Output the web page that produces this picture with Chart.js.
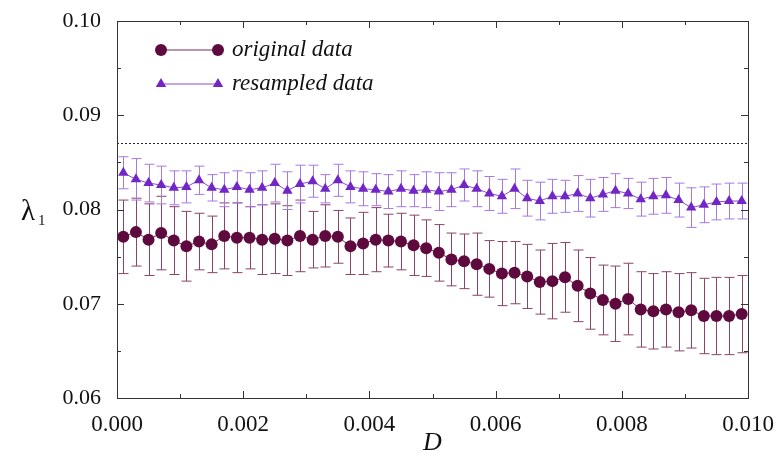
<!DOCTYPE html>
<html>
<head>
<meta charset="utf-8">
<script src="https://cdn.jsdelivr.net/npm/chart.js@4/dist/chart.umd.min.js"></script>
<style>
  html, body { margin: 0; padding: 0; background: #fff; }
  #wrap { width: 777px; height: 459px; }
</style>
</head>
<body>
<div id="wrap"><canvas id="myChart" width="777" height="459"></canvas></div>
<script>
// D values (x positions of the measurements)
var dValues = [
  0.0001, 0.0003, 0.0005, 0.0007, 0.0009, 0.0011, 0.0013, 0.0015, 0.0017, 0.0019,
  0.0021, 0.0023, 0.0025, 0.0027, 0.0029, 0.0031, 0.0033, 0.0035, 0.0037, 0.0039,
  0.0041, 0.0043, 0.0045, 0.0047, 0.0049, 0.0051, 0.0053, 0.0055, 0.0057, 0.0059,
  0.0061, 0.0063, 0.0065, 0.0067, 0.0069, 0.0071, 0.0073, 0.0075, 0.0077, 0.0079,
  0.0081, 0.0083, 0.0085, 0.0087, 0.0089, 0.0091, 0.0093, 0.0095, 0.0097, 0.0099
];

// original data: lambda_1 and its error (half width)
var originalVals = [
  0.0771, 0.0776, 0.0768, 0.0775, 0.0767, 0.0761, 0.0766, 0.0763, 0.0772, 0.0770,
  0.0770, 0.0768, 0.0769, 0.0767, 0.0772, 0.0768, 0.0772, 0.0771, 0.0761, 0.0764,
  0.0768, 0.0767, 0.0766, 0.0762, 0.0759, 0.0754, 0.0747, 0.0745, 0.0742, 0.0737,
  0.0732, 0.0733, 0.0729, 0.0723, 0.0724, 0.0728, 0.0719, 0.0711, 0.0704, 0.0700,
  0.0705, 0.0694, 0.0692, 0.0694, 0.0691, 0.0693, 0.0687, 0.0687, 0.0687, 0.0689
];
var originalErr = [
  0.0039, 0.0036, 0.0038, 0.0039, 0.0036, 0.0037, 0.0030, 0.0030, 0.0035, 0.0037,
  0.0033, 0.0037, 0.0037, 0.0037, 0.0038, 0.0030, 0.0033, 0.0028, 0.0030, 0.0033,
  0.0034, 0.0028, 0.0030, 0.0032, 0.0030, 0.0030, 0.0028, 0.0029, 0.0033, 0.0030,
  0.0034, 0.0033, 0.0034, 0.0034, 0.0040, 0.0037, 0.0038, 0.0038, 0.0037, 0.0040,
  0.0038, 0.0040, 0.0040, 0.0040, 0.0041, 0.0040, 0.0040, 0.0041, 0.0041, 0.0041
];

// resampled data
var resampledVals = [
  0.0839, 0.0832, 0.0828, 0.0826, 0.0823, 0.0824, 0.0831, 0.0823, 0.0821, 0.0824,
  0.0821, 0.0823, 0.0828, 0.0820, 0.0827, 0.0830, 0.0822, 0.0831, 0.0824, 0.0822,
  0.0821, 0.0819, 0.0822, 0.0820, 0.0821, 0.0819, 0.0821, 0.0826, 0.0822, 0.0817,
  0.0814, 0.0822, 0.0812, 0.0809, 0.0814, 0.0814, 0.0817, 0.0812, 0.0816, 0.0820,
  0.0817, 0.0811, 0.0814, 0.0815, 0.0810, 0.0802, 0.0805, 0.0808, 0.0809, 0.0809
];
var resampledErr = [
  0.0017, 0.0022, 0.0020, 0.0020, 0.0018, 0.0017, 0.0015, 0.0014, 0.0018, 0.0017,
  0.0018, 0.0018, 0.0020, 0.0020, 0.0020, 0.0017, 0.0015, 0.0017, 0.0017, 0.0018,
  0.0017, 0.0018, 0.0019, 0.0017, 0.0019, 0.0020, 0.0018, 0.0017, 0.0019, 0.0018,
  0.0018, 0.0021, 0.0019, 0.0020, 0.0018, 0.0017, 0.0019, 0.0020, 0.0018, 0.0018,
  0.0016, 0.0018, 0.0019, 0.0019, 0.0018, 0.0021, 0.0019, 0.0019, 0.0019, 0.0019
];

// dotted reference level
var refLevel = 0.087;
var xRange = [0.0, 0.010];
var yRange = [0.06, 0.10];

function toPoints(xs, ys, errs) {
  return xs.map(function(x, i) {
    return { x: x, y: ys[i], err: errs ? errs[i] : 0 };
  });
}

var serif = "'Liberation Serif', 'DejaVu Serif', serif";

// error bars, drawn behind the markers
var errorBars = {
  id: 'errorBars',
  beforeDatasetsDraw: function(chart) {
    var ctx = chart.ctx;
    var xs = chart.scales.x, ys = chart.scales.y;
    chart.data.datasets.forEach(function(ds) {
      if (!ds.errColor) return;
      ctx.save();
      ctx.strokeStyle = ds.errColor;
      ctx.lineWidth = 1;
      ds.data.forEach(function(p) {
        var px = Math.round(xs.getPixelForValue(p.x)) + 0.5;
        var top = ys.getPixelForValue(p.y + p.err);
        var bot = ys.getPixelForValue(p.y - p.err);
        ctx.beginPath();
        ctx.moveTo(px, top); ctx.lineTo(px, bot);
        ctx.moveTo(px - 5, top); ctx.lineTo(px + 5, top);
        ctx.moveTo(px - 5, bot); ctx.lineTo(px + 5, bot);
        ctx.stroke();
      });
      ctx.restore();
    });
  }
};

// frame, inward ticks on all sides, legend and y title
var decorations = {
  id: 'decorations',
  afterDraw: function(chart) {
    var ctx = chart.ctx;
    var a = chart.chartArea;
    var xs = chart.scales.x, ys = chart.scales.y;
    ctx.save();
    ctx.strokeStyle = '#333';
    ctx.lineWidth = 1;
    ctx.strokeRect(Math.round(a.left) + 0.5, Math.round(a.top) + 0.5,
                   Math.round(a.right - a.left), Math.round(a.bottom - a.top));

    function xTick(v, len) {
      var px = Math.round(xs.getPixelForValue(v)) + 0.5;
      ctx.beginPath();
      ctx.moveTo(px, a.bottom); ctx.lineTo(px, a.bottom - len);
      ctx.moveTo(px, a.top); ctx.lineTo(px, a.top + len);
      ctx.stroke();
    }
    function yTick(v, len) {
      var py = Math.round(ys.getPixelForValue(v)) + 0.5;
      ctx.beginPath();
      ctx.moveTo(a.left, py); ctx.lineTo(a.left + len, py);
      ctx.moveTo(a.right, py); ctx.lineTo(a.right - len, py);
      ctx.stroke();
    }
    var xt = xs.ticks.map(function(t) { return t.value; });
    xt.forEach(function(v, i) {
      xTick(v, 7);
      if (i > 0) xTick((v + xt[i - 1]) / 2, 4);
    });
    var yt = ys.ticks.map(function(t) { return t.value; });
    yt.forEach(function(v, i) {
      yTick(v, 7);
      if (i > 0) yTick((v + yt[i - 1]) / 2, 4);
    });

    // legend
    var rows = [chart.data.datasets[0], chart.data.datasets[1]];
    rows.forEach(function(ds, i) {
      var y = 50 + i * 34;
      ctx.strokeStyle = ds.borderColor;
      ctx.lineWidth = 1;
      ctx.beginPath();
      ctx.moveTo(161, y); ctx.lineTo(218, y);
      ctx.stroke();
      ctx.fillStyle = ds.pointBackgroundColor;
      [161, 218].forEach(function(x) {
        Chart.helpers.drawPoint(ctx, {
          pointStyle: ds.pointStyle, radius: ds.pointRadius,
          rotation: 0, borderWidth: 0
        }, x, y);
      });
      ctx.fillStyle = '#111';
      ctx.font = 'italic 23px ' + serif;
      ctx.textBaseline = 'middle';
      ctx.textAlign = 'left';
      ctx.fillText(ds.label, 232, y);
    });

    // y axis title: lambda with subscript 1
    ctx.fillStyle = '#111';
    ctx.font = '29px ' + serif;
    ctx.textBaseline = 'alphabetic';
    ctx.fillText('\u03bb', 21, 220);
    ctx.font = '15px ' + serif;
    ctx.fillText('1', 38, 225);
    ctx.restore();
  }
};

var ctx = document.getElementById('myChart').getContext('2d');
var myChart = new Chart(ctx, {
  type: 'scatter',
  data: {
    datasets: [{
      label: 'original data',
      data: toPoints(dValues, originalVals, originalErr),
      showLine: true,
      borderColor: '#7a2a55',
      borderWidth: 1,
      pointStyle: 'circle',
      pointRadius: 6,
      pointBorderWidth: 0,
      pointBackgroundColor: '#5e0a3e',
      errColor: '#8a4468',
      order: 2
    }, {
      label: 'resampled data',
      data: toPoints(dValues, resampledVals, resampledErr),
      showLine: true,
      borderColor: '#8a4ad6',
      borderWidth: 1,
      pointStyle: 'triangle',
      pointRadius: 6,
      pointBorderWidth: 0,
      pointBackgroundColor: '#7226c6',
      errColor: '#a57ae3',
      order: 1
    }, {
      label: 'reference',
      data: [{ x: xRange[0], y: refLevel }, { x: xRange[1], y: refLevel }],
      showLine: true,
      borderColor: '#222',
      borderWidth: 1,
      borderDash: [2, 2],
      pointRadius: 0
    }]
  },
  options: {
    responsive: false,
    animation: false,
    events: [],
    layout: { padding: { top: 21, right: 29, left: 0, bottom: 0 } },
    plugins: {
      legend: { display: false },
      tooltip: { enabled: false }
    },
    scales: {
      x: {
        type: 'linear',
        min: xRange[0],
        max: xRange[1],
        afterFit: function(scale) {
          scale.height = 61;
          scale.paddingLeft = 0;
          scale.paddingRight = 0;
        },
        grid: { display: false, drawTicks: false },
        border: { display: false },
        ticks: {
          stepSize: 0.002,
          padding: 13,
          color: '#111',
          font: { family: serif, size: 23 },
          maxRotation: 0,
          callback: function(v) { return v.toFixed(3); }
        },
        title: {
          display: true,
          text: 'D',
          color: '#111',
          font: { family: serif, size: 26, style: 'italic' },
          padding: { top: 0, bottom: 0 }
        }
      },
      y: {
        type: 'linear',
        min: yRange[0],
        max: yRange[1],
        afterFit: function(scale) {
          scale.width = 117;
          scale.paddingTop = 0;
          scale.paddingBottom = 0;
        },
        grid: { display: false, drawTicks: false },
        border: { display: false },
        ticks: {
          stepSize: 0.01,
          padding: 16,
          color: '#111',
          font: { family: serif, size: 22 },
          callback: function(v) { return v.toFixed(2); }
        }
      }
    }
  },
  plugins: [errorBars, decorations]
});
</script>
</body>
</html>
